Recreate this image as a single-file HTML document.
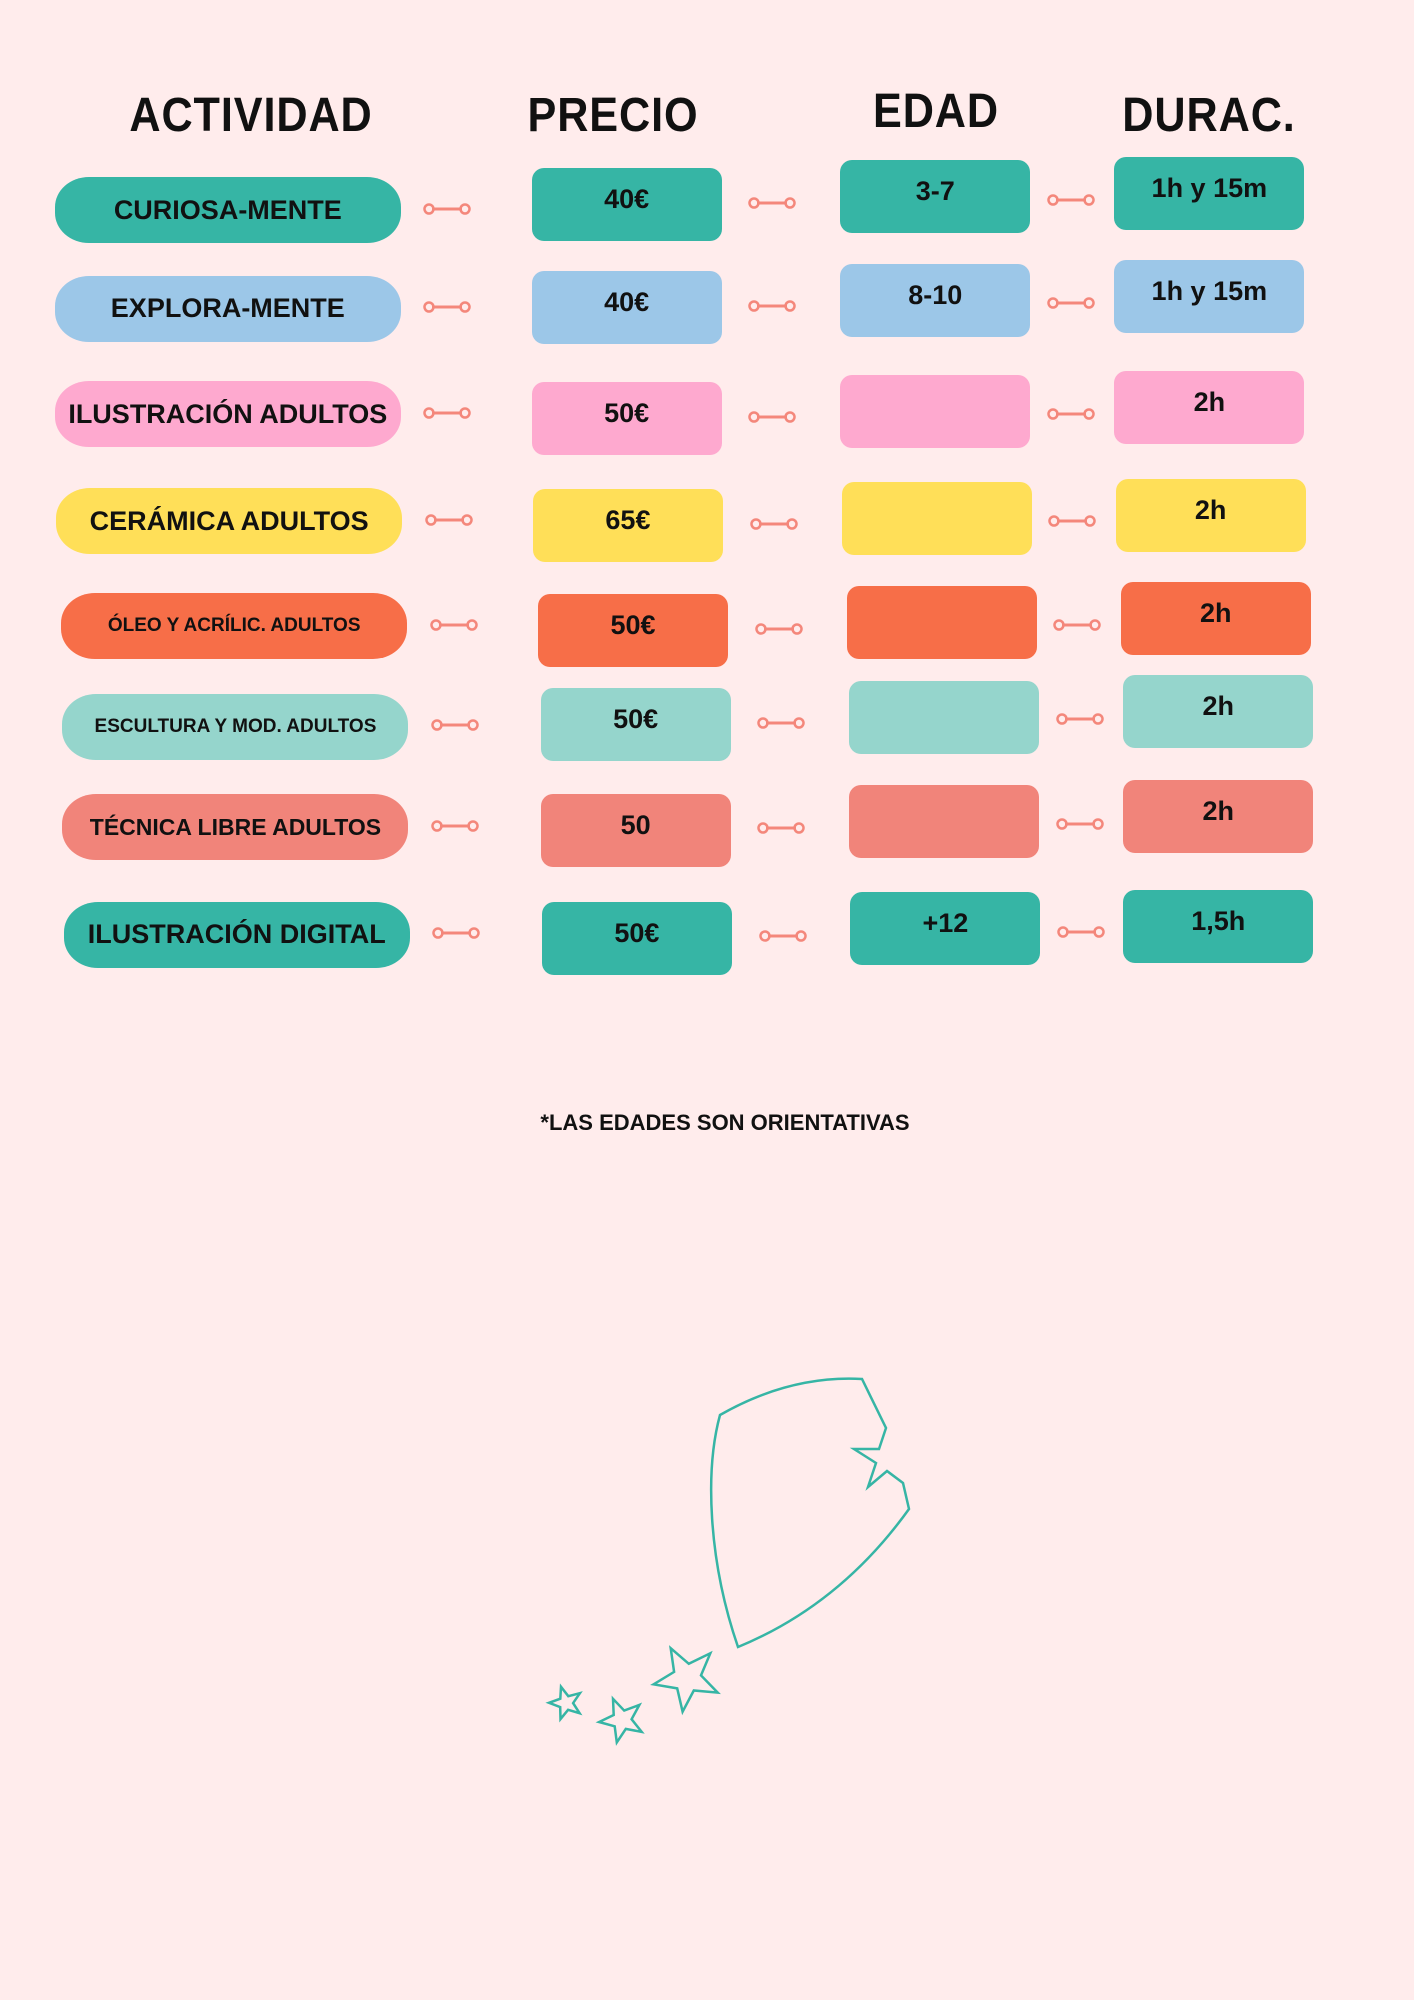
<!DOCTYPE html>
<html><head><meta charset="utf-8"><style>
body{margin:0;background:#ffecec;}
#p{position:relative;width:1414px;height:2000px;background:#ffecec;overflow:hidden;font-family:"Liberation Sans Narrow","Liberation Sans",sans-serif;font-weight:bold;color:#111;}
.h{position:absolute;font-size:48px;transform:translateX(-50%) scaleX(0.9);top:88px;letter-spacing:1px}
.b{position:absolute;display:flex;align-items:center;justify-content:center;font-size:27px}
.pill{border-radius:34px/30px;height:66px;width:346px;font-size:27px}
.box{border-radius:12px;height:73px;width:190px;align-items:flex-start;padding-top:0}
.box span{margin-top:16px}
.c{position:absolute;width:48px;height:14px}
</style></head><body><div id="p">
<div class="h" style="left:251px">ACTIVIDAD</div>
<div class="h" style="left:613px">PRECIO</div>
<div class="h" style="left:936px;top:84px">EDAD</div>
<div class="h" style="left:1209px">DURAC.</div>
<div id="rows"></div>
<div style="position:absolute;left:725px;top:1110px;transform:translateX(-50%);font-size:22px;white-space:nowrap">*LAS EDADES SON ORIENTATIVAS</div>
<svg style="position:absolute;left:0;top:0" width="1414" height="2000" fill="none" stroke="#36b5a5" stroke-width="2.5">
<path d="M720,1415 Q790,1375 862,1379 L886,1428 L879,1449 L854,1449 L876,1463 L868,1487 L887,1471 L903,1483 L909,1509 Q840,1605 738,1647 C708,1560 705,1470 720,1415 Z"/>
<polygon id="s1" points=""/><polygon id="s2" points=""/><polygon id="s3" points=""/>
</svg>
<script>
var C={t:"#36b5a5",b:"#9cc7e8",p:"#fea9cf",y:"#ffdf58",o:"#f76e48",m:"#95d5cc",s:"#f1847a"};
var R=[
["t","CURIOSA-MENTE",27,"40€","3-7","1h y 15m",165,160,154,151,0,0,0,0],
["b","EXPLORA-MENTE",27,"40€","8-10","1h y 15m",242,241,235,232,0,0,0,0],
["p","ILUSTRACIÓN ADULTOS",27,"50€","","2h",325,328,322,319,0,0,0,0],
["y","CERÁMICA ADULTOS",27,"65€","","2h",409,412,406,404,1,1,1,1],
["o","ÓLEO Y ACRÍLIC. ADULTOS",19,"50€","","2h",491,494,488,485,5,5,5,5],
["m","ESCULTURA Y MOD. ADULTOS",19,"50€","","2h",570,568,562,558,6,7,7,7],
["s","TÉCNICA LIBRE ADULTOS",23,"50","","2h",649,651,644,640,6,7,7,7],
["t","ILUSTRACIÓN DIGITAL",27,"50€","+12","1,5h",733,736,728,726,7,8,8,7]];
var k=1.275,h="";
R.forEach(function(r){var col=C[r[0]];
function box(x,cy,txt,dx,cls,w){var y=cy*k-36;h+='<div class="b '+cls+'" style="left:'+((x+dx)*k)+'px;top:'+y+'px;background:'+col+';font-size:'+(cls=='pill'?r[2]:27)+'px"><span>'+txt+'</span></div>';}
h+='<div class="b pill" style="left:'+((43+r[10])*k)+'px;top:'+(r[6]*k-33)+'px;background:'+col+';font-size:'+r[2]+'px">'+r[1]+'</div>';
box(417,r[7],r[3],r[11],"box");box(659,r[8],r[4],r[12],"box");box(874,r[9],r[5],r[13],"box");
function con(x,y){h+='<svg class="c" style="left:'+(x*k)+'px;top:'+(y*k-7)+'px" viewBox="0 0 48 14"><line x1="9" y1="7" x2="39" y2="7" stroke="#f4877b" stroke-width="3"/><circle cx="6" cy="7" r="4.5" fill="none" stroke="#f4877b" stroke-width="2.5"/><circle cx="42" cy="7" r="4.5" fill="none" stroke="#f4877b" stroke-width="2.5"/></svg>';}
con(332+r[10],r[6]-1);con(587+r[11],(r[7]+r[8])/2+2);con(821+r[12],(r[8]+r[9])/2+4);
});
document.getElementById("rows").innerHTML=h;
function star(id,cx,cy,R,rot){var p=[];for(var i=0;i<10;i++){var a=rot+i*Math.PI/5,rr=i%2?R*0.42:R;p.push((cx+rr*Math.sin(a)).toFixed(1)+","+(cy-rr*Math.cos(a)).toFixed(1));}document.getElementById(id).setAttribute("points",p.join(" "));}
star("s1",687,1678,34,-0.5);star("s2",622,1720,23,-0.4);star("s3",566,1703,17,-0.3);
</script>
</div></body></html>
